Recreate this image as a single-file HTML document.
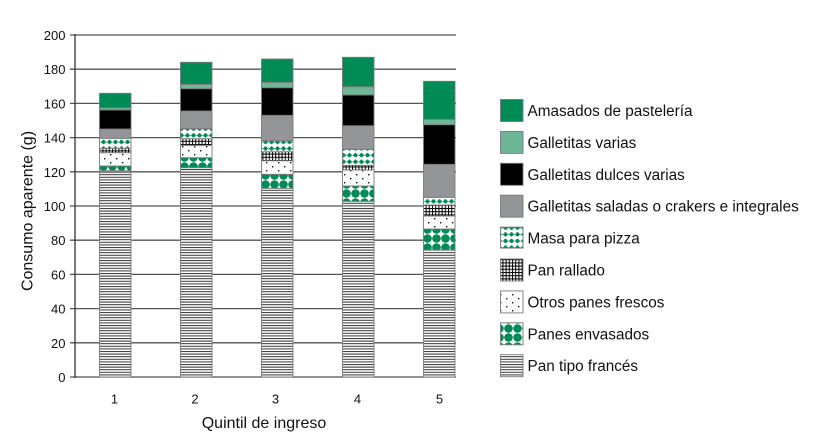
<!DOCTYPE html>
<html><head><meta charset="utf-8"><style>
html,body{margin:0;padding:0;background:#fff;}
svg{display:block;font-family:"Liberation Sans",Arial,sans-serif;}
</style></head><body>
<svg width="813" height="444" viewBox="0 0 813 444" xmlns="http://www.w3.org/2000/svg">
<defs>
<pattern id="fr" patternUnits="userSpaceOnUse" width="8" height="2.6">
<rect width="8" height="2.6" fill="#fff"/><rect y="0" width="8" height="1" fill="#333"/>
</pattern>
<pattern id="env" patternUnits="userSpaceOnUse" width="9" height="9" x="0" y="0">
<rect width="9" height="9" fill="#fff"/><circle cx="4.5" cy="4.5" r="4.3" fill="#008a55"/>
</pattern>
<pattern id="otr" patternUnits="userSpaceOnUse" width="12" height="8">
<rect width="12" height="8" fill="#fff"/><rect x="2" y="2" width="1.4" height="1.4" fill="#111"/><rect x="8" y="6" width="1.4" height="1.4" fill="#111"/>
</pattern>
<pattern id="ral" patternUnits="userSpaceOnUse" width="3.2" height="3.2">
<rect width="3.2" height="3.2" fill="#fff"/><rect x="0" y="0" width="1" height="3.2" fill="#000"/><rect x="0" y="0" width="3.2" height="1" fill="#000"/>
</pattern>
<pattern id="piz" patternUnits="userSpaceOnUse" width="6" height="6.6">
<rect width="6" height="6.6" fill="#fff"/>
<path d="M0,2.2 Q1.5,0 3,2.2 T6,2.2 L6,4.6 Q4.5,2.6 3,4.6 T0,4.6 Z" fill="#008a55"/>
</pattern>
</defs>

<!-- gridlines -->
<g stroke="#555" stroke-width="1.3">
<line x1="70" y1="377" x2="456" y2="377"/>
<line x1="70" y1="342.8" x2="456" y2="342.8"/>
<line x1="70" y1="308.6" x2="456" y2="308.6"/>
<line x1="70" y1="274.4" x2="456" y2="274.4"/>
<line x1="70" y1="240.2" x2="456" y2="240.2"/>
<line x1="70" y1="206" x2="456" y2="206"/>
<line x1="70" y1="171.8" x2="456" y2="171.8"/>
<line x1="70" y1="137.6" x2="456" y2="137.6"/>
<line x1="70" y1="103.4" x2="456" y2="103.4"/>
<line x1="70" y1="69.2" x2="456" y2="69.2"/>
<line x1="70" y1="35" x2="456" y2="35"/>
</g>
<line x1="75" y1="34" x2="75" y2="378" stroke="#333" stroke-width="1.3"/>

<!-- bars -->
<g stroke="#7a7a7a" stroke-width="0.9">
<!-- bar 1 -->
<rect x="99.5" y="170.7" width="31.5" height="206.3" fill="url(#fr)"/>
<rect x="99.5" y="166" width="31.5" height="4.7" fill="url(#env)"/>
<rect x="99.5" y="152.7" width="31.5" height="13.3" fill="url(#otr)"/>
<rect x="99.5" y="148.3" width="31.5" height="4.4" fill="url(#ral)"/>
<rect x="99.5" y="138.3" width="31.5" height="10" fill="url(#piz)"/>
<rect x="99.5" y="129" width="31.5" height="9.3" fill="#939598"/>
<rect x="99.5" y="110" width="31.5" height="19" fill="#000"/>
<rect x="99.5" y="107.7" width="31.5" height="2.3" fill="#6db696"/>
<rect x="99.5" y="93.3" width="31.5" height="14.4" fill="#008a55"/>
<!-- bar 2 -->
<rect x="180.5" y="167.7" width="31.5" height="209.3" fill="url(#fr)"/>
<rect x="180.5" y="157.7" width="31.5" height="10" fill="url(#env)"/>
<rect x="180.5" y="145.3" width="31.5" height="12.4" fill="url(#otr)"/>
<rect x="180.5" y="138.7" width="31.5" height="6.6" fill="url(#ral)"/>
<rect x="180.5" y="128.7" width="31.5" height="10" fill="url(#piz)"/>
<rect x="180.5" y="111" width="31.5" height="17.7" fill="#939598"/>
<rect x="180.5" y="88.7" width="31.5" height="22.3" fill="#000"/>
<rect x="180.5" y="84.3" width="31.5" height="4.4" fill="#6db696"/>
<rect x="180.5" y="62.3" width="31.5" height="22" fill="#008a55"/>
<!-- bar 3 -->
<rect x="261.5" y="188.3" width="31.5" height="188.7" fill="url(#fr)"/>
<rect x="261.5" y="174.3" width="31.5" height="14" fill="url(#env)"/>
<rect x="261.5" y="160.7" width="31.5" height="13.6" fill="url(#otr)"/>
<rect x="261.5" y="151.7" width="31.5" height="9" fill="url(#ral)"/>
<rect x="261.5" y="140.7" width="31.5" height="11" fill="url(#piz)"/>
<rect x="261.5" y="115.3" width="31.5" height="25.4" fill="#939598"/>
<rect x="261.5" y="87.7" width="31.5" height="27.6" fill="#000"/>
<rect x="261.5" y="82.3" width="31.5" height="5.4" fill="#6db696"/>
<rect x="261.5" y="59" width="31.5" height="23.3" fill="#008a55"/>
<!-- bar 4 -->
<rect x="342.5" y="201.3" width="31.5" height="175.7" fill="url(#fr)"/>
<rect x="342.5" y="186" width="31.5" height="15.3" fill="url(#env)"/>
<rect x="342.5" y="170" width="31.5" height="16" fill="url(#otr)"/>
<rect x="342.5" y="165.3" width="31.5" height="4.7" fill="url(#ral)"/>
<rect x="342.5" y="149.3" width="31.5" height="16" fill="url(#piz)"/>
<rect x="342.5" y="125.7" width="31.5" height="23.6" fill="#939598"/>
<rect x="342.5" y="95" width="31.5" height="30.7" fill="#000"/>
<rect x="342.5" y="86.7" width="31.5" height="8.3" fill="#6db696"/>
<rect x="342.5" y="57.3" width="31.5" height="29.4" fill="#008a55"/>
<!-- bar 5 -->
<rect x="423.5" y="250" width="31.5" height="127" fill="url(#fr)"/>
<rect x="423.5" y="229" width="31.5" height="21" fill="url(#env)"/>
<rect x="423.5" y="216" width="31.5" height="13" fill="url(#otr)"/>
<rect x="423.5" y="205" width="31.5" height="11" fill="url(#ral)"/>
<rect x="423.5" y="197.3" width="31.5" height="7.7" fill="url(#piz)"/>
<rect x="423.5" y="164.3" width="31.5" height="33" fill="#939598"/>
<rect x="423.5" y="124.7" width="31.5" height="39.6" fill="#000"/>
<rect x="423.5" y="119.3" width="31.5" height="5.4" fill="#6db696"/>
<rect x="423.5" y="81.3" width="31.5" height="38" fill="#008a55"/>
</g>

<!-- y tick labels -->
<g font-size="13" fill="#111" text-anchor="end">
<text x="65.5" y="382">0</text>
<text x="65.5" y="347.8">20</text>
<text x="65.5" y="313.6">40</text>
<text x="65.5" y="279.4">60</text>
<text x="65.5" y="245.2">80</text>
<text x="65.5" y="211">100</text>
<text x="65.5" y="176.8">120</text>
<text x="65.5" y="142.6">140</text>
<text x="65.5" y="108.4">160</text>
<text x="65.5" y="74.2">180</text>
<text x="65.5" y="40">200</text>
</g>
<!-- x tick labels -->
<g font-size="13" fill="#111" text-anchor="middle">
<text x="114.5" y="403.5">1</text>
<text x="195" y="403.5">2</text>
<text x="275.5" y="403.5">3</text>
<text x="357.5" y="403.5">4</text>
<text x="439.5" y="403.5">5</text>
</g>
<text x="264" y="428" font-size="16" fill="#111" text-anchor="middle">Quintil de ingreso</text>
<text transform="translate(32.5,211) rotate(-90)" font-size="16" fill="#111" text-anchor="middle">Consumo aparente (g)</text>

<!-- legend -->
<g stroke="#7a7a7a" stroke-width="0.9">
<rect x="500.5" y="99.5" width="22.5" height="22" fill="#008a55"/>
<rect x="500.5" y="131.4" width="22.5" height="22" fill="#6db696"/>
<rect x="500.5" y="163.3" width="22.5" height="22" fill="#000"/>
<rect x="500.5" y="195.2" width="22.5" height="22" fill="#939598"/>
<rect x="500.5" y="227.1" width="22.5" height="21" fill="url(#piz)"/>
<rect x="500.5" y="259" width="22.5" height="22" fill="url(#ral)"/>
<rect x="500.5" y="290.9" width="22.5" height="22" fill="url(#otr)"/>
<rect x="500.5" y="322.8" width="22.5" height="22" fill="url(#env)"/>
<rect x="500.5" y="354.7" width="22.5" height="22" fill="url(#fr)"/>
</g>
<g font-size="15.3" fill="#111">
<text x="527.5" y="116">Amasados de pastelería</text>
<text x="527.5" y="147.9">Galletitas varias</text>
<text x="527.5" y="179.8">Galletitas dulces varias</text>
<text x="527.5" y="211.7">Galletitas saladas o crakers e integrales</text>
<text x="527.5" y="243.6">Masa para pizza</text>
<text x="527.5" y="275.5">Pan rallado</text>
<text x="527.5" y="307.4">Otros panes frescos</text>
<text x="527.5" y="339.3">Panes envasados</text>
<text x="527.5" y="371.2">Pan tipo francés</text>
</g>
</svg>
</body></html>
